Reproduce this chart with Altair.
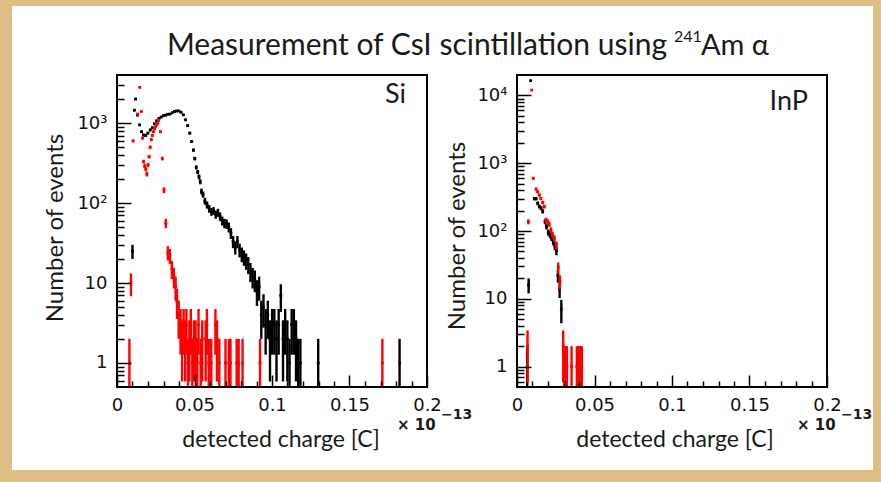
import altair as alt
import pandas as pd

# ---------------- data ----------------
# Si panel: detected charge (x 1e-13 C) and number of events per bin
si_black_q = [0.0100, 0.0112, 0.0120, 0.0132, 0.0146, 0.0159, 0.0171, 0.0185, 0.0199, 0.0214,
              0.0228, 0.0242, 0.0256, 0.0271, 0.0285, 0.0299, 0.0314, 0.0328, 0.0342, 0.0356,
              0.0371, 0.0385, 0.0399, 0.0413, 0.0428, 0.0442, 0.0456, 0.0470, 0.0482, 0.0493,
              0.0502, 0.0511, 0.0521, 0.0529, 0.0537, 0.0545, 0.0555, 0.0567, 0.0581, 0.0595,
              0.0609, 0.0623, 0.0637, 0.0651, 0.0665, 0.0679, 0.0693, 0.0707, 0.0721, 0.0735,
              0.0749, 0.0763, 0.0777, 0.0791, 0.0805, 0.0819, 0.0833, 0.0847, 0.0861, 0.0875,
              0.0889, 0.0903, 0.0917, 0.0931, 0.0945, 0.0959, 0.0973, 0.0987, 0.1001, 0.1015,
              0.1029, 0.1043, 0.1057, 0.1071, 0.1085, 0.1099, 0.1113, 0.1127, 0.1141, 0.1155,
              0.1169, 0.1183, 0.1298, 0.1823]
si_black_n = [25, 1450, 2000, 1260, 950, 780, 710, 700, 750, 820,
              875, 980, 1070, 1150, 1190, 1240, 1260, 1290, 1300, 1350,
              1400, 1420, 1420, 1370, 1270, 1100, 930, 750, 590, 460,
              360, 280, 245, 213, 185, 140, 128, 106, 95, 85,
              78, 80, 72, 76, 68, 60, 56, 55, 50, 42,
              33, 28, 33, 26, 23, 21, 19, 17, 14, 12,
              11, 8, 9, 4, 5, 3, 4, 2, 3, 3,
              2, 3, 7, 2, 3, 2, 1, 3, 3, 2,
              1, 1, 1, 1]
si_red_q = [0.0080, 0.0090, 0.0104, 0.0133, 0.0147, 0.0157, 0.0165, 0.0172, 0.0179, 0.0186,
            0.0193, 0.0200, 0.0207, 0.0214, 0.0221, 0.0228, 0.0235, 0.0242, 0.0249, 0.0256,
            0.0263, 0.0268, 0.0280, 0.0292, 0.0303, 0.0315, 0.0328, 0.0341, 0.0354, 0.0367,
            0.0378, 0.0387, 0.0398, 0.0410, 0.0420, 0.0430, 0.0440, 0.0448, 0.0458, 0.0467,
            0.0476, 0.0486, 0.0496, 0.0507, 0.0518, 0.0526, 0.0540, 0.0550, 0.0572, 0.0580,
            0.0592, 0.0608, 0.0635, 0.0645, 0.0660, 0.0700, 0.0722, 0.0732, 0.0772, 0.0785,
            0.0810, 0.0923, 0.1712]
si_red_n = [1, 10, 600, 1300, 2800, 1400, 650, 330, 290, 265,
            230, 300, 380, 500, 620, 700, 780, 850, 910, 960,
            1000, 1080, 780, 360, 145, 56, 24, 22, 15, 12,
            9, 6, 4, 3, 2, 3, 2, 3, 1, 2,
            3, 1, 2, 2, 1, 3, 1, 2, 2, 3,
            1, 1, 3, 2, 1, 1, 1, 1, 1, 1,
            1, 1, 1]

# InP panel
inp_black_q = [0.0066, 0.0075, 0.0088, 0.0112, 0.0123, 0.0134, 0.0144, 0.0155, 0.0166, 0.0181,
               0.0191, 0.0202, 0.0213, 0.0223, 0.0234, 0.0244, 0.0254, 0.0264, 0.0275, 0.0286,
               0.0405]
inp_black_n = [1, 16, 16500, 300, 300, 256, 230, 218, 195, 137,
               116, 95, 88, 80, 70, 60, 51, 22, 14, 7,
               1]
inp_red_q = [0.0068, 0.0073, 0.0095, 0.0105, 0.0123, 0.0133, 0.0144, 0.0154, 0.0166, 0.0176,
             0.0187, 0.0198, 0.0208, 0.0219, 0.0230, 0.0241, 0.0254, 0.0266, 0.0277, 0.0298,
             0.0306, 0.0314, 0.0322, 0.0352, 0.0386, 0.0394, 0.0402, 0.0410, 0.0418]
inp_red_n = [2, 137, 12000, 600, 415, 380, 340, 303, 263, 229,
             145, 137, 126, 103, 87, 78, 62, 29, 18, 2,
             1, 1, 1, 1, 1, 1, 1, 1, 1]

# axis ticks / labels
x_label_values = [0, 0.05, 0.1, 0.15, 0.2]
x_tick_values = [0, 0.01, 0.02, 0.03, 0.04, 0.05, 0.06, 0.07, 0.08, 0.09, 0.1,
                 0.11, 0.12, 0.13, 0.14, 0.15, 0.16, 0.17, 0.18, 0.19, 0.2]
si_y_ticks = [0.6, 0.7, 0.8, 0.9, 1, 2, 3, 4, 5, 6, 7, 8, 9, 10, 20, 30, 40, 50, 60, 70, 80, 90,
              100, 200, 300, 400, 500, 600, 700, 800, 900, 1000, 2000, 3000]
inp_y_ticks = [0.6, 0.7, 0.8, 0.9, 1, 2, 3, 4, 5, 6, 7, 8, 9, 10, 20, 30, 40, 50, 60, 70, 80, 90,
               100, 200, 300, 400, 500, 600, 700, 800, 900, 1000, 2000, 3000, 4000, 5000, 6000,
               7000, 8000, 9000, 10000]
si_y_labels = [1, 10, 100, 1000]
inp_y_labels = [1, 10, 100, 1000, 10000]

# ---------------- layout constants ----------------
W, H = 310, 312
BEIGE = "#DDBE85"
TXT = "#1a1a1a"
LABEL_FONT = "DejaVu Sans"
TITLE_FONT = "Lato"

Y_LABEL_EXPR = ("datum.value < 5 ? '1\u2002' : datum.value < 50 ? '10\u2002' : "
                "datum.value < 500 ? '10\u00b2' : datum.value < 5000 ? '10\u00b3' : '10\u2074'")


def make_df(bq, bn, rq, rn):
    rows = []
    for s, qs, ns in (("black", bq, bn), ("red", rq, rn)):
        for q, n in zip(qs, ns):
            e = n ** 0.5
            rows.append({"q": q, "n": n, "lo": max(n - e, 0.5), "hi": n + e, "s": s})
    return pd.DataFrame(rows)


one = pd.DataFrame({"k": [0]})


def txt(text, x, y, size, font, align="left", angle=0, baseline="alphabetic",
        color=TXT, weight="normal"):
    return alt.Chart(one).mark_text(
        text=text, align=align, baseline=baseline, fontSize=size, font=font,
        angle=angle, color=color, fontWeight=weight
    ).encode(x=alt.value(x), y=alt.value(y))


def panel(df, ydom, yticks, ylabvals, texts, background=None):
    xs = alt.Scale(domain=[0, 0.2], nice=False, zero=False)
    ys = alt.Scale(type="log", domain=ydom, nice=False)
    base = alt.Chart(df)

    label_axes = base.mark_point(opacity=0).encode(
        x=alt.X("q:Q", scale=xs, axis=alt.Axis(
            orient="bottom", values=x_label_values, format="~g", ticks=False, domain=False,
            grid=False, labelFont=LABEL_FONT, labelFontSize=18, labelColor="#111",
            labelPadding=9, labelFlush=False, labelOverlap=False, title=None, zindex=1)),
        y=alt.Y("n:Q", scale=ys, axis=alt.Axis(
            orient="left", values=ylabvals, labelExpr=Y_LABEL_EXPR, ticks=False,
            domain=False, grid=False, labelFont=LABEL_FONT, labelFontSize=18,
            labelColor="#111", labelPadding=10, labelOverlap=False, title=None, zindex=1)),
    )
    tick_axes = base.mark_point(opacity=0).encode(
        x=alt.X("q:Q", scale=xs, axis=alt.Axis(
            orient="top", offset=-H, values=x_tick_values, labels=False, domain=False,
            grid=False, tickColor="black", tickWidth=1.5,
            tickSize={"condition": {"test": "abs(datum.value*20 - round(datum.value*20)) < 0.001",
                                    "value": 12}, "value": 6},
            title=None, zindex=1)),
        y=alt.Y("n:Q", scale=ys, axis=alt.Axis(
            orient="right", offset=-W, values=yticks, labels=False, domain=False,
            grid=False, tickColor="black", tickWidth=1.5,
            tickSize={"condition": {"test": "abs(log(datum.value)/LN10 - round(log(datum.value)/LN10)) < 0.001",
                                    "value": 14}, "value": 7},
            title=None, zindex=1)),
    )

    def series(name, color):
        sel = base.transform_filter(alt.datum.s == name)
        rules = sel.mark_rule(strokeWidth=2.4, color=color, clip=True).encode(
            x=alt.X("q:Q", scale=xs, axis=None),
            y=alt.Y("lo:Q", scale=ys, axis=None),
            y2="hi:Q",
        )
        pts = sel.mark_square(size=8, color=color, opacity=1, clip=True).encode(
            x=alt.X("q:Q", scale=xs, axis=None),
            y=alt.Y("n:Q", scale=ys, axis=None),
        )
        return [rules, pts]

    frame = alt.Chart(one).mark_rect(fillOpacity=0, stroke="black", strokeWidth=2).encode(
        x=alt.value(0), x2=alt.value(W), y=alt.value(0), y2=alt.value(H))

    layers = []
    if background is not None:
        layers.append(background)
    layers += [label_axes, tick_axes]
    layers += series("black", "#000000")
    layers += series("red", "#ff0000")
    layers.append(frame)
    layers += texts
    return alt.layer(*layers).resolve_axis(x="independent", y="independent").properties(
        width=W, height=H)


white_bg = alt.Chart(one).mark_rect(color="white").encode(
    x=alt.value(-105), x2=alt.value(756), y=alt.value(-69), y2=alt.value(395))

p1_texts = [
    txt("Measurement of CsI scintillation using", 550, -20, 30, TITLE_FONT, align="right"),
    txt("241", 557, -33, 16, TITLE_FONT),
    txt("Am \u03b1", 584, -20, 29, TITLE_FONT),
    txt("Si", 289, 28, 27, TITLE_FONT, align="right"),
    txt("Number of events", -61, 153, 24, TITLE_FONT, align="center", angle=270, baseline="middle"),
    txt("detected charge [C]", 164, 372, 23, TITLE_FONT, align="center"),
    txt("\u00d7 10", 280, 355, 15, LABEL_FONT, weight="bold"),
    txt("\u221213", 324, 344, 14, LABEL_FONT, weight="bold"),
]
p2_texts = [
    txt("InP", 291, 35, 27, TITLE_FONT, align="right"),
    txt("Number of events", -59, 161, 24, TITLE_FONT, align="center", angle=270, baseline="middle"),
    txt("detected charge [C]", 158, 372, 23, TITLE_FONT, align="center"),
    txt("\u00d7 10", 280, 355, 15, LABEL_FONT, weight="bold"),
    txt("\u221213", 324, 344, 14, LABEL_FONT, weight="bold"),
]

p1 = panel(make_df(si_black_q, si_black_n, si_red_q, si_red_n), [0.5, 4000],
           si_y_ticks, si_y_labels, p1_texts, background=white_bg)
p2 = panel(make_df(inp_black_q, inp_black_n, inp_red_q, inp_red_n), [0.5, 20000],
           inp_y_ticks, inp_y_labels, p2_texts)

chart = alt.hconcat(p1, p2, spacing=90, bounds="flush").properties(
    background=BEIGE,
    padding={"left": 12, "top": 6, "right": 8, "bottom": 12},
).configure_view(strokeWidth=0)

chart.save("out.html", embed_options={"renderer": "svg", "actions": False})
